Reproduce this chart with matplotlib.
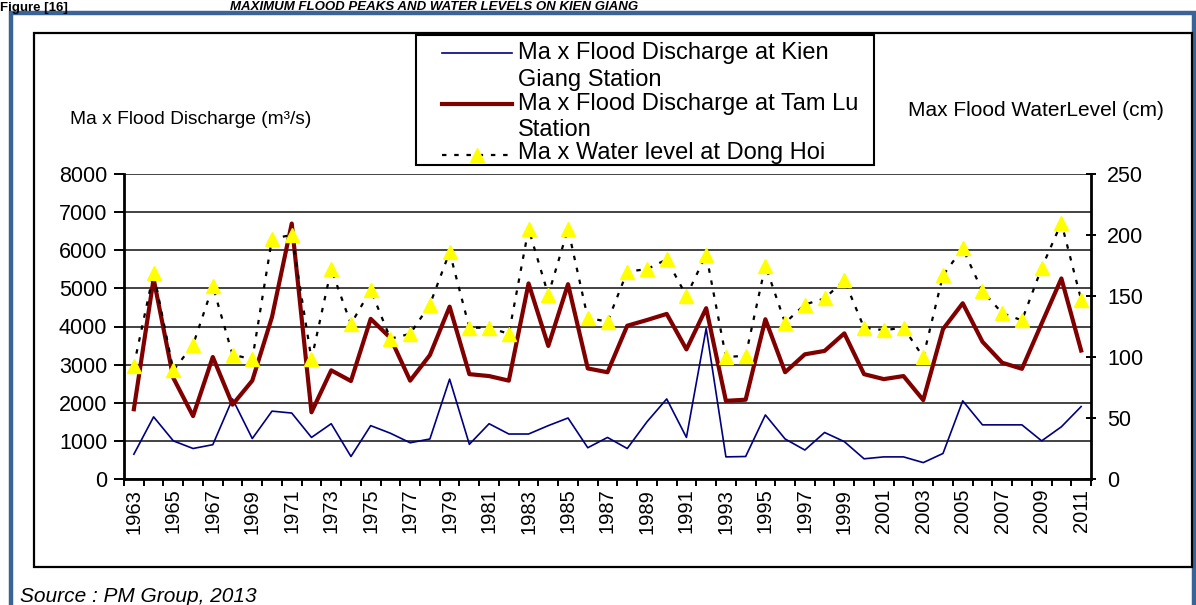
"""Caudales maximos de crecida y niveles de agua - cuenca Kien Giang (1963-2011)."""

import matplotlib
matplotlib.use("Agg")
import matplotlib.pyplot as plt
from matplotlib.lines import Line2D
from matplotlib.patches import Rectangle
import numpy as np

plt.rcParams["font.family"] = ["Liberation Sans", "DejaVu Sans"]

years = list(range(1963, 2012))
kien_giang = [650, 1630, 1000, 800, 900, 2100, 1060, 1780, 1730, 1090,
              1450, 590, 1400, 1200, 950, 1050, 2620, 910, 1450, 1180,
              1180, 1400, 1600, 820, 1090, 800, 1500, 2100, 1090, 3950,
              580, 590, 1680, 1050, 760, 1220, 980, 530, 580, 580,
              430, 670, 2050, 1420, 1420, 1420, 1000, 1370, 1900]
tam_lu = [1830, 5250, 2650, 1650, 3200, 1950, 2580, 4250, 6700, 1750,
          2850, 2570, 4200, 3700, 2580, 3250, 4520, 2750, 2700, 2580,
          5130, 3490, 5110, 2900, 2800, 4020, 4170, 4330, 3400, 4480,
          2050, 2080, 4190, 2800, 3270, 3360, 3820, 2750, 2620, 2700,
          2070, 3930, 4610, 3600, 3050, 2890, 4080, 5260, 3370]
dong_hoi = [93, 169, 89, 110, 158, 102, 98, 197, 200, 98,
            172, 127, 155, 115, 119, 143, 186, 124, 124, 119,
            205, 151, 205, 132, 129, 170, 172, 180, 150, 184,
            100, 101, 175, 128, 143, 148, 163, 124, 122, 124,
            100, 167, 189, 154, 136, 130, 173, 210, 147]

labels = {
    "kien": "Ma x Flood Discharge at Kien\nGiang Station",
    "tam": "Ma x Flood Discharge at Tam Lu\nStation",
    "dong": "Ma x Water level at Dong Hoi",
}

W, H = 1196, 605
BLUE = "#000080"
RED = "#800000"
YELLOW = "#ffff00"


def fx(px):
    return px / W


def fy(py):
    return 1 - py / H


fig = plt.figure(figsize=(W / 100, H / 100), dpi=100, facecolor="white")

# marco azul exterior y recuadro negro del grafico
fig.patches.append(Rectangle((fx(11), fy(640)), fx(1194) - fx(11), fy(13) - fy(640),
                             transform=fig.transFigure, fill=False,
                             edgecolor="#3a6497", lw=3.2, zorder=0))
fig.patches.append(Rectangle((fx(34), fy(567)), fx(1192) - fx(34), fy(33) - fy(567),
                             transform=fig.transFigure, fill=False,
                             edgecolor="black", lw=1.6, zorder=0))

fig.text(fx(0), fy(10.5), "Figure [16]", fontsize=9.5, fontweight="bold", va="baseline")
fig.text(fx(230), fy(10.5), "MAXIMUM FLOOD PEAKS AND WATER LEVELS ON KIEN GIANG",
         fontsize=9.5, fontweight="bold", style="italic", va="baseline")

x = np.arange(len(years))
ax = fig.add_axes([fx(124), fy(479), fx(1091) - fx(124), fy(174) - fy(479)])
ax.plot(x, kien_giang, color=BLUE, lw=1.2, zorder=3)
ax.plot(x, tam_lu, color=RED, lw=3.0, zorder=3)
ax.set_xlim(-0.5, len(years) - 0.5)
ax.set_ylim(0, 8000)
ax.set_yticks(range(0, 8001, 1000))
ax.grid(axis="y", color="#222222", lw=1.2)
ax.set_axisbelow(True)

ax.set_xticks(np.arange(-0.5, len(years), 1.0))
ax.set_xticklabels([])
ax.set_xticks(x[::2], minor=True)
ax.set_xticklabels([str(y) for y in years[::2]], minor=True, rotation=90, fontsize=14.5)
ax.tick_params(axis="x", which="major", length=5, width=1.4, direction="out")
ax.tick_params(axis="x", which="minor", length=0, pad=7)
ax.tick_params(axis="y", length=7, width=1.4, direction="out", labelsize=15.5, pad=5)
for s in ["top", "right"]:
    ax.spines[s].set_visible(False)
for s in ["left", "bottom"]:
    ax.spines[s].set_linewidth(2)

ax2 = ax.twinx()
ax2.plot(x, dong_hoi, color="black", lw=1.6, ls=(0, (2, 3.5)),
         marker="^", ms=10.5, mfc=YELLOW, mec=YELLOW, zorder=4)
ax2.set_ylim(0, 250)
ax2.set_yticks(range(0, 251, 50))
ax2.tick_params(axis="y", length=7, width=1.4, direction="inout", labelsize=15.5, pad=8)
for s in ["top", "left", "bottom"]:
    ax2.spines[s].set_visible(False)
ax2.spines["right"].set_linewidth(2)

fig.text(fx(70), fy(120), "Ma x Flood Discharge (m³/s)", fontsize=13.8, va="center")
fig.text(fx(908), fy(111), "Max Flood WaterLevel (cm)", fontsize=15, va="center")

# leyenda dibujada a mano (texto en dos lineas, muestra alineada a la primera)
fig.patches.append(Rectangle((fx(416), fy(165)), fx(874) - fx(416), fy(35) - fy(165),
                             transform=fig.transFigure, facecolor="white",
                             edgecolor="black", lw=1.5, zorder=5))
fig.lines.append(Line2D([fx(442), fx(512)], [fy(53), fy(53)], color=BLUE, lw=1.2,
                        transform=fig.transFigure, zorder=6))
fig.lines.append(Line2D([fx(442), fx(512)], [fy(104), fy(104)], color=RED, lw=3.0,
                        transform=fig.transFigure, zorder=6))
fig.lines.append(Line2D([fx(442), fx(512)], [fy(155), fy(155)], color="black", lw=1.6,
                        ls=(0, (2, 3.5)), transform=fig.transFigure, zorder=6))
fig.lines.append(Line2D([fx(477)], [fy(155)], marker="^", ms=10.5, mfc=YELLOW, mec=YELLOW,
                        transform=fig.transFigure, zorder=7))
fig.text(fx(518), fy(53), labels["kien"].split("\n")[0], fontsize=17, va="center", zorder=7)
fig.text(fx(518), fy(80), labels["kien"].split("\n")[1], fontsize=17, va="center", zorder=7)
fig.text(fx(518), fy(104), labels["tam"].split("\n")[0], fontsize=17, va="center", zorder=7)
fig.text(fx(518), fy(130), labels["tam"].split("\n")[1], fontsize=17, va="center", zorder=7)
fig.text(fx(518), fy(153), labels["dong"], fontsize=17, va="center", zorder=7)

fig.text(fx(20), fy(597), "Source : PM Group, 2013", fontsize=15, style="italic", va="center")

fig.savefig("out.png", dpi=100, facecolor="white")
